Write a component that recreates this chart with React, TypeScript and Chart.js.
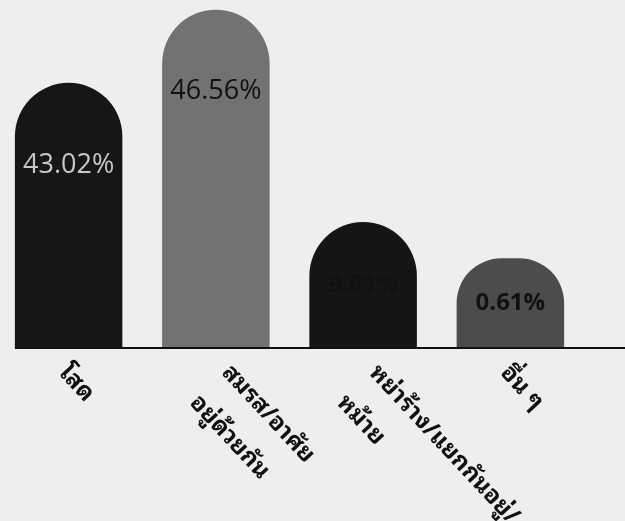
import React, { useEffect, useRef } from "react";
import { Chart, registerables } from "chart.js";

Chart.register(...registerables);

// Category labels (multi-line as in the source)
const categories: string[][] = [
  ["โสด"],
  ["สมรส/อาศัย", "อยู่ด้วยกัน"],
  ["หย่าร้าง/แยกกันอยู่/", "หม้าย"],
  ["อื่น ๆ"],
];
// Percentages printed on the bars
const percentValues: number[] = [43.02, 46.56, 9.81, 0.61];
// Bar heights as drawn in the source picture (not proportional to the percentages)
const barHeights: number[] = [38.1, 48.6, 18.1, 12.9];

const barColors = ["#161616", "#727272", "#151515", "#4c4c4c"];
const labelColors = ["#c8c8c8", "#111111", "#111111", "#111111"];
const labelWeights = ["normal", "normal", "bold", "bold"];
const labelSizes = [27, 27, 24, 24];

const THAI_FONT =
  "Tahoma, 'Noto Sans Thai Looped', 'Tlwg Typo', Loma, Garuda, Umpush, Kinnari, 'Noto Serif Thai', 'Noto Sans Thai', 'Noto Sans', sans-serif";
const NUM_FONT = "'Open Sans', 'Noto Sans', 'DejaVu Sans', sans-serif";

const overlayPlugin = {
  id: "overlay",
  afterDatasetsDraw(chart: any) {
    const ctx = chart.ctx as CanvasRenderingContext2D;
    const meta = chart.getDatasetMeta(0);
    const bars = meta.data as any[];
    if (!bars.length) return;
    const base = bars[0].base;
    // baseline
    ctx.save();
    ctx.strokeStyle = "#111";
    ctx.lineWidth = 2;
    ctx.beginPath();
    ctx.moveTo(bars[0].x - bars[0].width / 2, base);
    ctx.lineTo(chart.width, base);
    ctx.stroke();
    ctx.restore();

    // value labels
    bars.forEach((bar: any, i: number) => {
      const y = Math.min(bar.y + 82, (bar.y + bar.base) / 2);
      ctx.save();
      ctx.fillStyle = labelColors[i];
      ctx.font = `${labelWeights[i]} ${labelSizes[i]}px ${NUM_FONT}`;
      ctx.textAlign = "center";
      ctx.textBaseline = "middle";
      ctx.fillText(percentValues[i].toFixed(2) + "%", bar.x, y);
      ctx.restore();
    });

    // rotated category labels
    const theta = (47 * Math.PI) / 180;
    const lh = 44;
    const y0 = base + 6;
    bars.forEach((bar: any, i: number) => {
      const lines = categories[i];
      const n = lines.length;
      const ax = bar.x - 6;
      const ay = y0 + ((n * lh) / 2) * Math.cos(theta);
      ctx.save();
      ctx.translate(ax, ay);
      ctx.rotate(theta);
      ctx.fillStyle = "#111";
      ctx.font = `bold 24px ${THAI_FONT}`;
      ctx.textAlign = "left";
      ctx.textBaseline = "middle";
      lines.forEach((line, j) => {
        ctx.fillText(line, 0, (j - (n - 1) / 2) * lh);
      });
      ctx.restore();
    });
  },
};

export default function App() {
  const ref = useRef<HTMLCanvasElement | null>(null);
  useEffect(() => {
    if (!ref.current) return;
    const chart = new Chart(ref.current, {
      type: "bar",
      data: {
        labels: categories.map((c) => c.join(" ")),
        datasets: [
          {
            data: barHeights,
            backgroundColor: barColors,
            borderRadius: { topLeft: 60, topRight: 60, bottomLeft: 0, bottomRight: 0 },
            borderSkipped: false,
            barPercentage: 0.73,
            categoryPercentage: 1,
          },
        ],
      },
      options: {
        animation: false,
        responsive: false,
        maintainAspectRatio: false,
        layout: { padding: { left: 0, right: 41, top: 0, bottom: 173 } },
        plugins: { legend: { display: false }, tooltip: { enabled: false } },
        scales: {
          x: { display: false },
          y: { display: false, min: 0, max: 50 },
        },
      },
      plugins: [overlayPlugin],
    });
    return () => chart.destroy();
  }, []);
  return (
    <div
      style={{
        position: "fixed",
        left: 0,
        top: 0,
        width: 625,
        height: 521,
        overflow: "hidden",
        background: "#eeeef1",
      }}
    >
      <canvas
        ref={ref}
        width={630}
        height={521}
        style={{ position: "absolute", left: -5, top: 0, width: 630, height: 521 }}
      />
    </div>
  );
}
